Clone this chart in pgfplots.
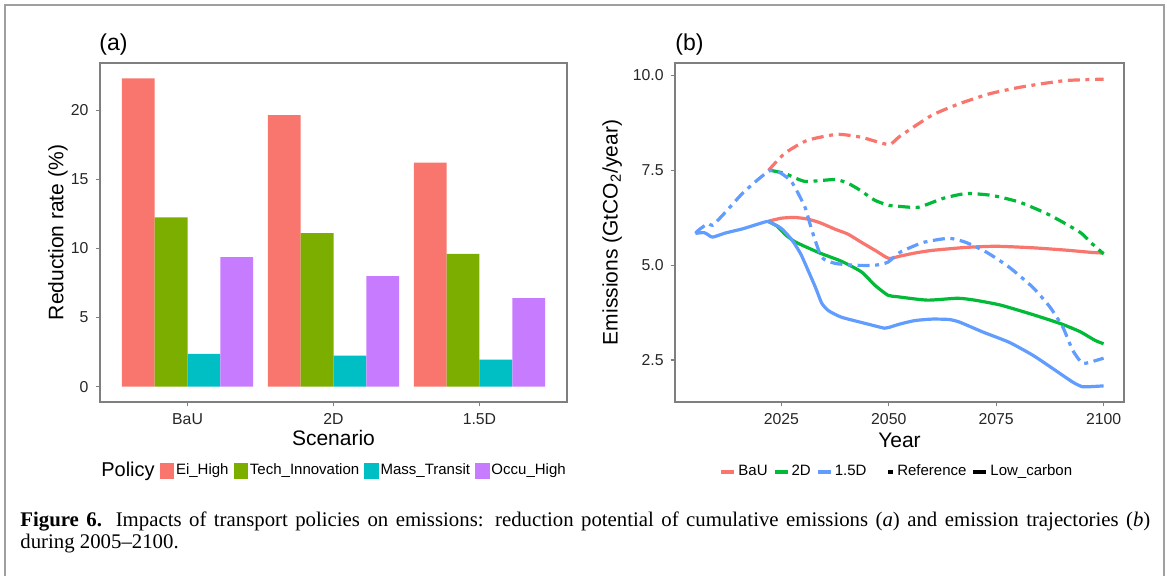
\documentclass[border=0pt]{standalone}
\usepackage{fontspec}
\setmainfont{Liberation Sans}
\newfontfamily\capfont{Liberation Serif}
\usepackage{pgfplots}
\pgfplotsset{compat=1.18}

% ggplot default hues
\definecolor{pA}{HTML}{F8766D}
\definecolor{pB}{HTML}{7CAE00}
\definecolor{pC}{HTML}{00BFC4}
\definecolor{pD}{HTML}{C77CFF}
\definecolor{sR}{HTML}{F8766D}
\definecolor{sG}{HTML}{00BA38}
\definecolor{sB}{HTML}{619CFF}
\definecolor{frame}{HTML}{7F7F7F}

\pgfplotsset{
  panel/.style={
    scale only axis, height=169.5pt,
    axis line style={frame, line width=0.7pt},
    tick align=outside, xtick pos=bottom, ytick pos=left,
    major tick length=2.2pt,
    tick style={frame, line width=0.6pt},
    ticklabel style={font=\fontsize{7.9}{9}\selectfont, text=black!85},
    /pgf/number format/assume math mode=true,
    label style={font=\fontsize{10.5}{12}\selectfont},
    legend style={draw=none, fill=none, legend columns=-1,
      font=\fontsize{7.5}{9}\selectfont, inner sep=0pt,
      nodes={inner sep=1pt},
      /tikz/every even column/.append style={column sep=1.5pt}},
  },
  sq/.style={legend image code/.code={\fill[#1] (0pt,-3.6pt) rectangle (6.8pt,3.8pt);}},
  ln/.style={legend image code/.code={\draw[#1, line width=2pt] (0pt,0pt) -- (6.5pt,0pt);}},
  ref/.style={dash pattern=on 6pt off 2.8pt on 2pt off 2.8pt},
  traj/.style={line width=1.6pt, smooth, tension=0.35, line join=round, forget plot},
}

\begin{document}
\begin{tikzpicture}
\path[use as bounding box] (0,0) rectangle (583.5pt,287.5pt);
\draw[gray!75, line width=0.9pt] (2.5pt,-2pt) -- (2.5pt,285pt) -- (581.8pt,285pt) -- (581.8pt,-2pt);

\node[anchor=west, font=\fontsize{11.5}{13}\selectfont, inner sep=0pt] at (49.5pt,265pt) {(a)};
\node[anchor=west, font=\fontsize{11.5}{13}\selectfont, inner sep=0pt] at (337.5pt,265pt) {(b)};

% (a) reduction rate by scenario
\begin{axis}[panel, at={(50pt,86.5pt)}, anchor=south west, width=233.5pt,
  xmin=0.4, xmax=3.6, ymin=-1.115, ymax=23.415,
  xtick={1,2,3}, xticklabels={BaU,2D,1.5D},
  ytick={0,5,10,15,20},
  ybar, bar width=0.225,
  xlabel={Scenario}, ylabel={Reduction rate (\%)},
  xlabel style={at={(axis description cs:0.5,-0.106)}, anchor=center},
  ylabel style={at={(axis description cs:-0.09,0.5)}, anchor=center},
  legend style={at={(0.5,-0.2035)}, anchor=center},
]
\addplot[fill=pA, draw=none, bar shift=-0.3375, forget plot] coordinates {(1,22.3) (2,19.65) (3,16.2)};
\addplot[fill=pB, draw=none, bar shift=-0.1125, forget plot] coordinates {(1,12.25) (2,11.1) (3,9.6)};
\addplot[fill=pC, draw=none, bar shift=0.1125, forget plot] coordinates {(1,2.37) (2,2.25) (3,1.95)};
\addplot[fill=pD, draw=none, bar shift=0.3375, forget plot] coordinates {(1,9.37) (2,8.0) (3,6.4)};
\addlegendimage{empty legend}\addlegendentry{\fontsize{10}{11}\selectfont Policy}
\addlegendimage{sq=pA}\addlegendentry{Ei\_High}
\addlegendimage{sq=pB}\addlegendentry{Tech\_Innovation}
\addlegendimage{sq=pC}\addlegendentry{Mass\_Transit}
\addlegendimage{sq=pD}\addlegendentry{Occu\_High}
\end{axis}

% (b) emission trajectories
\begin{axis}[panel, at={(337.5pt,86.5pt)}, anchor=south west, width=224.5pt,
  xmin=2000.25, xmax=2104.75, ymin=1.395, ymax=10.33,
  xtick={2025,2050,2075,2100}, xticklabels={2025,2050,2075,2100},
  ytick={2.5,5,7.5,10}, yticklabels={2.5,5.0,7.5,10.0},
  xlabel={Year}, ylabel={Emissions (GtCO\textsubscript{2}/year)},
  xlabel style={at={(axis description cs:0.5,-0.112)}, anchor=center},
  ylabel style={at={(axis description cs:-0.14,0.5)}, anchor=center},
  legend style={at={(0.494,-0.2065)}, anchor=center},
]
% Low_carbon (solid)
\addplot[traj, sR] coordinates {(2022,6.16) (2025,6.24) (2028,6.26) (2031,6.22) (2034,6.12) (2037.5,5.95) (2040.5,5.82) (2043.7,5.6) (2047,5.38) (2050,5.18) (2052.6,5.24) (2056,5.32) (2060,5.39) (2068,5.47) (2075,5.5) (2083.5,5.46) (2091,5.4) (2097,5.34) (2100,5.32)};
\addplot[traj, sG] coordinates {(2022,6.15) (2024,6.03) (2026,5.8) (2028,5.63) (2030,5.52) (2034,5.32) (2038,5.15) (2040,5.05) (2043.7,4.82) (2046.8,4.47) (2049.8,4.21) (2052,4.17) (2059,4.08) (2066,4.13) (2070,4.08) (2076,3.95) (2083.5,3.7) (2090,3.46) (2094.5,3.25) (2098,3.02) (2100,2.93)};
\addplot[traj, sB] coordinates {(2005,5.84) (2007,5.86) (2008,5.8) (2009,5.74) (2012,5.85) (2016,5.96) (2020,6.1) (2022,6.15) (2025,5.97) (2027.5,5.66) (2029.5,5.3) (2031.2,4.87) (2033,4.4) (2034.4,4.0) (2036,3.8) (2039,3.63) (2044.4,3.47) (2049,3.34) (2050,3.36) (2052.6,3.45) (2056,3.54) (2060,3.58) (2064,3.57) (2066.5,3.5) (2071.9,3.24) (2078,2.97) (2083.5,2.63) (2088,2.29) (2092.8,1.92) (2095,1.8) (2097,1.8) (2100,1.82)};
% Reference (dash-dot)
\addplot[traj, ref, sR] coordinates {(2022,7.5) (2025.8,7.95) (2031,8.29) (2038,8.45) (2043.7,8.37) (2050,8.18) (2052.6,8.4) (2060,8.95) (2066.5,9.26) (2073.5,9.52) (2080,9.68) (2086,9.79) (2091.4,9.87) (2098.4,9.9) (2100,9.9)};
\addplot[traj, ref, sG] coordinates {(2022.5,7.5) (2025.8,7.42) (2030.5,7.21) (2037.5,7.26) (2040.5,7.16) (2043,7.0) (2046.8,6.71) (2050,6.58) (2052.6,6.55) (2057,6.53) (2062.6,6.76) (2068,6.89) (2074,6.84) (2080.5,6.66) (2087.5,6.32) (2094.5,5.87) (2097,5.6) (2100,5.3)};
\addplot[traj, ref, sB] coordinates {(2005,5.84) (2006,5.95) (2008,6.1) (2009,6.05) (2012,6.4) (2016,6.9) (2020,7.3) (2022.5,7.5) (2025,7.42) (2027.5,7.18) (2030.5,6.53) (2032.1,5.92) (2034.4,5.21) (2037.5,5.05) (2042,5.0) (2046.8,5.0) (2049.8,5.08) (2052.6,5.34) (2058,5.6) (2064,5.71) (2068,5.6) (2072.8,5.34) (2078,4.95) (2083.5,4.42) (2087.5,3.9) (2090.5,3.37) (2092.8,2.76) (2095,2.42) (2097,2.45) (2100,2.55)};
\addlegendimage{ln=sR}\addlegendentry{BaU}
\addlegendimage{ln=sG}\addlegendentry{2D}
\addlegendimage{ln=sB}\addlegendentry{1.5D}
\addlegendimage{empty legend}\addlegendentry{\hspace*{4pt}}
\addlegendimage{legend image code/.code={\draw[black, line width=2pt] (2.2pt,0pt) -- (4.6pt,0pt);}}\addlegendentry{Reference}
\addlegendimage{ln=black}\addlegendentry{Low\_carbon}
\end{axis}

% caption
\node[anchor=base west, inner sep=0pt, font=\capfont\fontsize{10.4}{12}\selectfont] at (10pt,24.5pt)
  {\makebox[565pt][s]{\textbf{Figure 6.} Impacts of transport policies on emissions: reduction potential of cumulative emissions (\textit{a}) and emission trajectories (\textit{b})}};
\node[anchor=base west, inner sep=0pt, font=\capfont\fontsize{10.4}{12}\selectfont] at (10pt,13.5pt)
  {during 2005–2100.};
\end{tikzpicture}
\end{document}
